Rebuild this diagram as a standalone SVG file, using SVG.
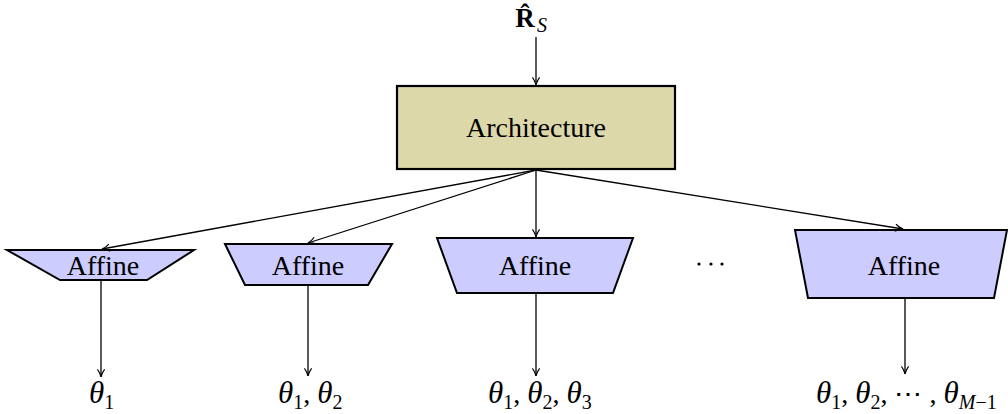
<svg xmlns="http://www.w3.org/2000/svg" width="1008" height="414" viewBox="0 0 1008 414">
  <style>
    .lbl { font-family: "Liberation Serif", "Times New Roman", serif; font-size: 28px; fill: #000; text-anchor: middle; }
    .math { font-family: "Liberation Serif", "Times New Roman", serif; font-style: italic; font-size: 31px; fill: #000; }
    .up { font-style: normal; font-size: 28px; }
    .sub { font-size: 20px; font-style: normal; }
    .subi { font-size: 20px; }
    .arch { fill: #ddd8aa; stroke: #000; stroke-width: 2.2; }
    .aff { fill: #ccccff; stroke: #000; stroke-width: 2; stroke-linejoin: miter; }
    .edge { fill: none; stroke: #000; stroke-width: 1.3; marker-end: url(#tip); }
  </style>
  <defs>
    <marker id="tip" viewBox="0 0 10 10" refX="9.5" refY="5" markerWidth="9" markerHeight="9" markerUnits="userSpaceOnUse" orient="auto">
      <path d="M1,1 Q5,4 9.5,5 Q5,6 1,9" fill="none" stroke="#000" stroke-width="1.3"/>
    </marker>
  </defs>

  <!-- input label -->
  <g id="input">
    <text x="525" y="27" font-family="Liberation Serif, serif" font-weight="bold" font-size="27" text-anchor="middle">R&#770;</text>
    <text x="537" y="32" font-family="Liberation Serif, serif" font-style="italic" font-size="20">S</text>
  </g>

  <!-- shared network -->
  <g id="architecture">
    <rect class="arch" x="397" y="86" width="278" height="83"/>
    <text class="lbl" x="536" y="137">Architecture</text>
  </g>

  <!-- affine heads -->
  <g id="affine1">
    <polygon class="aff" points="7,250 194,250 147,280 60,280"/>
    <text class="lbl" x="103" y="275">Affine</text>
  </g>
  <g id="affine2">
    <polygon class="aff" points="225,244 392,244 368,285 245,285"/>
    <text class="lbl" x="308" y="275">Affine</text>
  </g>
  <g id="affine3">
    <polygon class="aff" points="437,238 633,238 613,293 457,293"/>
    <text class="lbl" x="535" y="275">Affine</text>
  </g>
  <g id="ellipsis">
    <circle cx="699" cy="264" r="1.6"/>
    <circle cx="711" cy="264" r="1.6"/>
    <circle cx="722" cy="264" r="1.6"/>
  </g>
  <g id="affine4">
    <polygon class="aff" points="795,230 1007,230 994,298 808,298"/>
    <text class="lbl" x="904" y="275">Affine</text>
  </g>

  <!-- outputs -->
  <g id="out1">
    <text class="math" x="89" y="403">θ<tspan class="sub" dy="6">1</tspan></text>
  </g>
  <g id="out2">
    <text class="math" x="278" y="403">θ<tspan class="sub" dy="6">1</tspan><tspan class="up" dy="-6">, </tspan>θ<tspan class="sub" dy="6">2</tspan></text>
  </g>
  <g id="out3">
    <text class="math" x="488" y="403">θ<tspan class="sub" dy="6">1</tspan><tspan class="up" dy="-6">, </tspan>θ<tspan class="sub" dy="6">2</tspan><tspan class="up" dy="-6">, </tspan>θ<tspan class="sub" dy="6">3</tspan></text>
  </g>
  <g id="out4">
    <text class="math" x="816" y="403">θ<tspan class="sub" dy="6">1</tspan><tspan class="up" dy="-6">, </tspan>θ<tspan class="sub" dy="6">2</tspan><tspan class="up" dy="-6">, ⋯ , </tspan>θ<tspan class="subi" dy="6">M</tspan><tspan class="sub">−1</tspan></text>
  </g>

  <!-- connectors -->
  <g id="connectors">
    <line class="edge" x1="536" y1="37" x2="536" y2="85"/>
    <line class="edge" x1="536" y1="170" x2="102" y2="249"/>
    <line class="edge" x1="536" y1="170" x2="308" y2="243"/>
    <line class="edge" x1="536" y1="170" x2="536" y2="237"/>
    <line class="edge" x1="536" y1="170" x2="903" y2="229"/>
    <line class="edge" x1="101" y1="281" x2="101" y2="377"/>
    <line class="edge" x1="308" y1="286" x2="308" y2="376"/>
    <line class="edge" x1="536" y1="294" x2="536" y2="376"/>
    <line class="edge" x1="905" y1="299" x2="905" y2="374"/>
  </g>
</svg>
